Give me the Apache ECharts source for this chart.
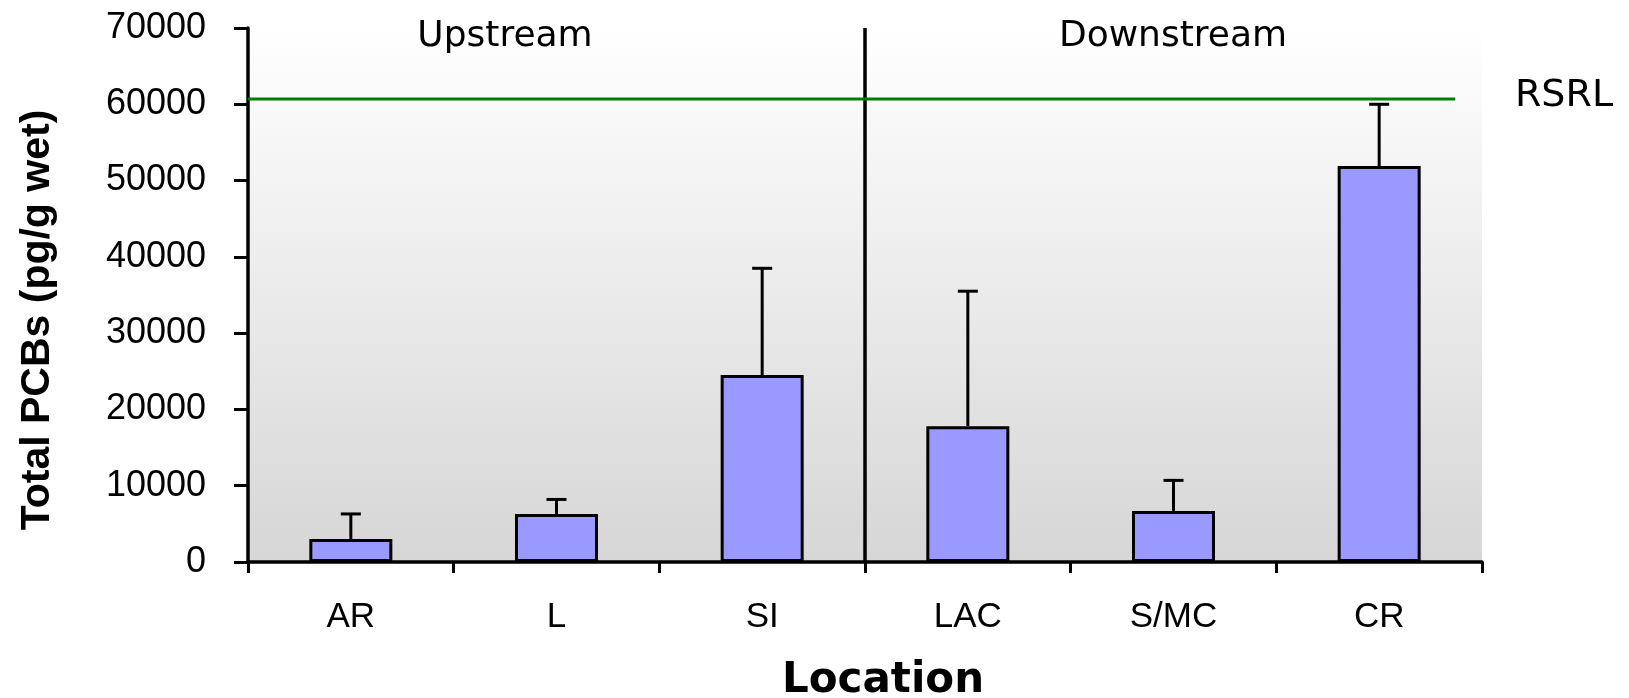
<!DOCTYPE html>
<html>
<head>
<meta charset="utf-8">
<title>Total PCBs by location</title>
<script src="https://cdn.jsdelivr.net/npm/echarts@6/dist/echarts.min.js"></script>
<style>
  html, body { margin: 0; padding: 0; background: #fff; }
  #chart { width: 1629px; height: 698px; }
</style>
</head>
<body>
<div id="chart"></div>
<script>
// data ----------------------------------------------
var categories = ['AR', 'L', 'SI', 'LAC', 'S/MC', 'CR'];
var meanValues = [3000, 6300, 24500, 17800, 6700, 51900];
var errorValues = [3300, 1900, 14000, 17700, 4000, 8100]; // upper error (+)
var yTicks = [0, 10000, 20000, 30000, 40000, 50000, 60000, 70000];
var rsrlValue = 60700;
var rsrlSpan = [0, 5.87];   // in category units on the hidden value axis
var dividerAt = 3;          // boundary between SI and LAC
var groupNames = ['Upstream', 'Downstream'];

var myChart = echarts.init(document.getElementById('chart'), null, {renderer: 'canvas'});

// error bar with a cap, drawn through the axes
function renderErrorBar(params, api) {
	var base = api.coord([api.value(0), api.value(1)]);
	var high = api.coord([api.value(0), api.value(2)]);
	var half = 10;
	var style = {stroke: '#000', lineWidth: 3};
	return {
		type: 'group',
		children: [
			{type: 'line', shape: {x1: base[0], y1: base[1], x2: high[0], y2: high[1]}, style: style},
			{type: 'line', shape: {x1: high[0] - half, y1: high[1], x2: high[0] + half, y2: high[1]}, style: style}
		]
	};
}

var errorData = categories.map(function (c, i) {
	return [i, meanValues[i], meanValues[i] + errorValues[i]];
});

var option = {
	animation: false,
	backgroundColor: '#fff',
	grid: {
		left: 248, right: 147, top: 28, bottom: 136,
		show: true, borderWidth: 0,
		backgroundColor: {
			type: 'linear', x: 0, y: 0, x2: 0, y2: 1,
			colorStops: [{offset: 0, color: '#ffffff'}, {offset: 1, color: '#d6d6d6'}]
		}
	},
	xAxis: [
		{
			type: 'category',
			data: categories,
			boundaryGap: true,
			axisLine: {lineStyle: {color: '#000', width: 3.5}},
			axisTick: {show: true, interval: 0, inside: false, length: 11, lineStyle: {color: '#000', width: 3}},
			axisLabel: {color: '#000', fontFamily: 'Liberation Sans', fontSize: 35, margin: 38, interval: 0},
			splitLine: {show: false}
		},
		{
			type: 'value', min: 0, max: 6, show: false
		}
	],
	yAxis: {
		type: 'value',
		min: yTicks[0], max: yTicks[yTicks.length - 1], interval: 10000,
		axisLine: {show: true, lineStyle: {color: '#000', width: 3.5}},
		axisTick: {show: true, inside: false, length: 14, lineStyle: {color: '#000', width: 3}},
		axisLabel: {
			color: '#000', fontFamily: 'Liberation Sans', fontSize: 36, margin: 42,
			formatter: function (v) { return String(v); }
		},
		splitLine: {show: false}
	},
	series: [
		{
			name: 'Total PCBs',
			type: 'bar',
			data: meanValues,
			barWidth: 83,
			itemStyle: {color: '#9999ff', borderColor: '#000', borderWidth: 3},
			z: 2
		},
		{
			name: 'error',
			type: 'custom',
			renderItem: renderErrorBar,
			data: errorData,
			z: 3
		},
		{
			name: 'RSRL',
			type: 'line',
			xAxisIndex: 1,
			data: [[rsrlSpan[0], rsrlValue], [rsrlSpan[1], rsrlValue]],
			symbol: 'none',
			lineStyle: {color: '#008000', width: 3},
			z: 5,
			markLine: {
				silent: true,
				symbol: ['none', 'none'],
				label: {show: false},
				lineStyle: {color: '#000', width: 3.5, type: 'solid'},
				data: [{xAxis: dividerAt}]
			}
		}
	],
	graphic: [
		{type: 'text', x: 505, y: 37, style: {text: groupNames[0], fontFamily: 'DejaVu Sans', fontSize: 36, fill: '#000', textAlign: 'center', textVerticalAlign: 'middle'}},
		{type: 'text', x: 1173, y: 37, style: {text: groupNames[1], fontFamily: 'DejaVu Sans', fontSize: 36, fill: '#000', textAlign: 'center', textVerticalAlign: 'middle'}},
		{type: 'text', x: 1564, y: 96, style: {text: 'RSRL', fontFamily: 'DejaVu Sans', fontSize: 38, fill: '#000', textAlign: 'center', textVerticalAlign: 'middle'}},
		{type: 'text', x: 883, y: 681, style: {text: 'Location', fontFamily: 'DejaVu Sans', fontWeight: 'bold', fontSize: 42, fill: '#000', textAlign: 'center', textVerticalAlign: 'middle'}},
		{type: 'text', x: 38, y: 320, rotation: Math.PI / 2, style: {text: 'Total PCBs (pg/g wet)', fontFamily: 'Liberation Sans', fontWeight: 'bold', fontSize: 41, fill: '#000', textAlign: 'center', textVerticalAlign: 'middle'}}
	]
};
myChart.setOption(option);
</script>
</body>
</html>
